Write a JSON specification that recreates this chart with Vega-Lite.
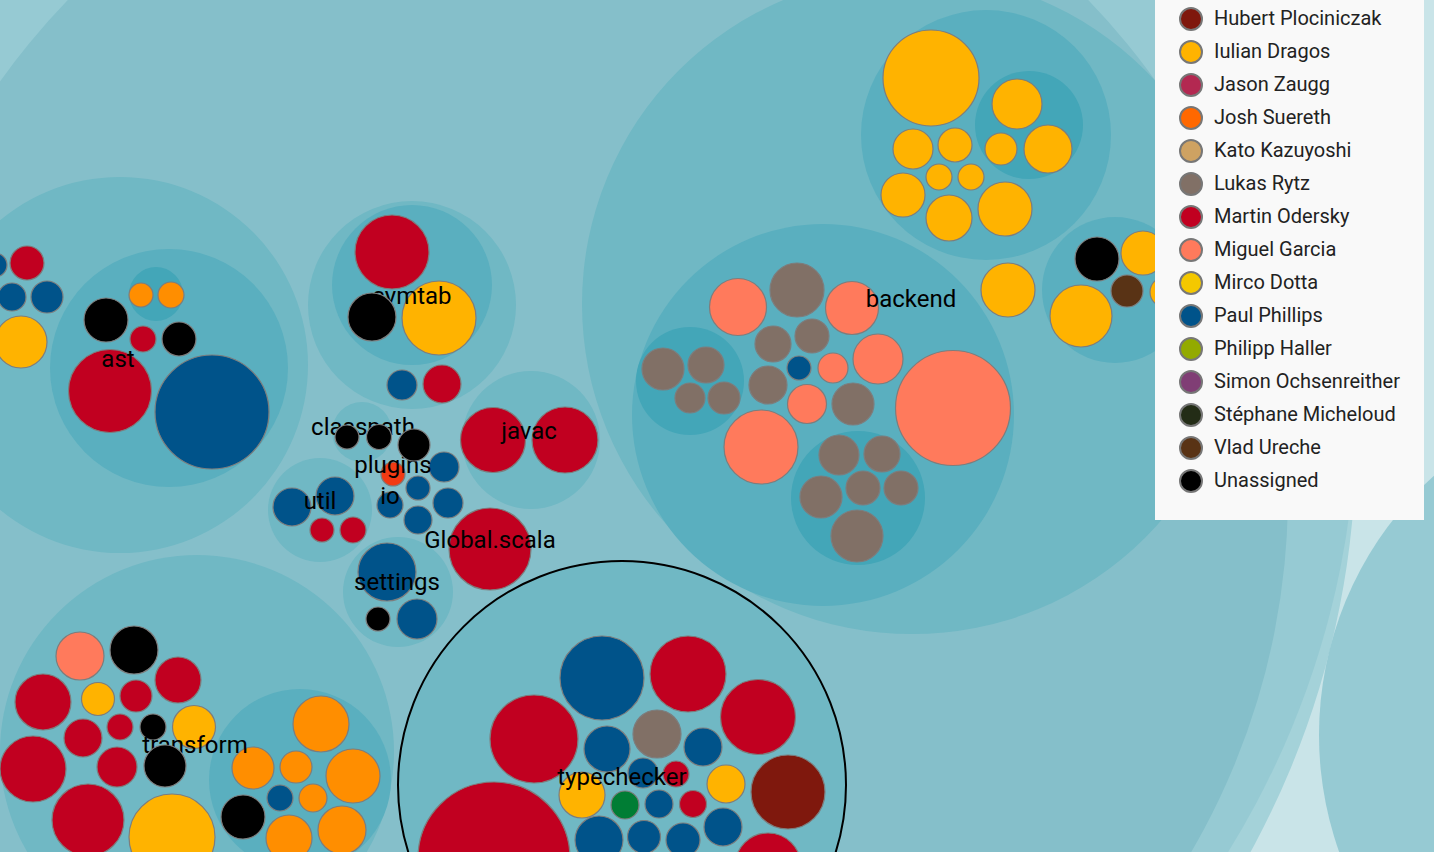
{
  "$schema": "https://vega.github.io/schema/vega-lite/v6.json",
  "width": 1434,
  "height": 852,
  "autosize": "none",
  "padding": 0,
  "background": "#c9e4e8",
  "config": {"view": {"stroke": null}},
  "datasets": {
    "nodes": [
      {"name": "outer2", "level": "g", "x": 500, "y": 440, "d": 1712},
      {"name": "right", "level": "p", "x": 1669, "y": 735, "d": 700},
      {"name": "outer1", "level": "p", "x": 500, "y": 400, "d": 1714},
      {"name": "nsc", "level": "a", "x": 578, "y": 494, "d": 1420},
      {"name": "backendgroup", "level": "l3", "x": 912, "y": 304, "d": 660},
      {"name": "astgroup", "level": "l3", "x": 120, "y": 365, "d": 376},
      {"name": "symtab", "level": "l3", "x": 412, "y": 305, "d": 208},
      {"name": "javac", "level": "l3", "x": 531, "y": 440, "d": 138},
      {"name": "classpath", "level": "l3", "x": 362, "y": 432, "d": 60},
      {"name": "util", "level": "l3", "x": 320, "y": 510, "d": 104},
      {"name": "settings", "level": "l3", "x": 398, "y": 592, "d": 110},
      {"name": "typechecker", "level": "l3", "x": 622, "y": 785, "d": 448},
      {"name": "transform", "level": "l3", "x": 197, "y": 752, "d": 394},
      {"name": "backend", "level": "l4", "x": 823, "y": 415, "d": 382},
      {"name": "icode", "level": "l4", "x": 986, "y": 135, "d": 250},
      {"name": "interactive", "level": "l4", "x": 1115, "y": 290, "d": 146},
      {"name": "ast", "level": "l4", "x": 169, "y": 368, "d": 238},
      {"name": "symtabinner", "level": "l4", "x": 412, "y": 285, "d": 160},
      {"name": "transformsub", "level": "l4", "x": 300, "y": 780, "d": 182},
      {"name": "backend1", "level": "l5", "x": 690, "y": 381, "d": 108},
      {"name": "backend2", "level": "l5", "x": 858, "y": 498, "d": 134},
      {"name": "icodesub", "level": "l5", "x": 1029, "y": 125, "d": 108},
      {"name": "astsub", "level": "l5", "x": 156, "y": 294, "d": 54}
    ],
    "leaves": [
      {"author": "Unassigned", "x": 106, "y": 320, "d": 44, "layer": "back"},
      {"author": "Martin Odersky", "x": 143, "y": 339, "d": 26, "layer": "back"},
      {"author": "Unassigned", "x": 179, "y": 339, "d": 34, "layer": "back"},
      {"author": "Martin Odersky", "x": 110, "y": 391, "d": 83, "layer": "back"},
      {"author": "Paul Phillips", "x": 212, "y": 412, "d": 114, "layer": "back"},
      {"author": "Offscreen 1", "x": 141, "y": 295, "d": 24, "layer": "back"},
      {"author": "Offscreen 1", "x": 171, "y": 295, "d": 26, "layer": "back"},
      {"author": "Paul Phillips", "x": -5, "y": 265, "d": 24, "layer": "back"},
      {"author": "Martin Odersky", "x": 27, "y": 263, "d": 34, "layer": "back"},
      {"author": "Paul Phillips", "x": 12, "y": 297, "d": 28, "layer": "back"},
      {"author": "Paul Phillips", "x": 47, "y": 297, "d": 32, "layer": "back"},
      {"author": "Iulian Dragos", "x": 21, "y": 342, "d": 52, "layer": "back"},

      {"author": "Martin Odersky", "x": 392, "y": 252, "d": 74, "layer": "back"},
      {"author": "Unassigned", "x": 372, "y": 317, "d": 48, "layer": "front"},
      {"author": "Iulian Dragos", "x": 439, "y": 318, "d": 74, "layer": "back"},
      {"author": "Paul Phillips", "x": 402, "y": 385, "d": 30, "layer": "back"},
      {"author": "Martin Odersky", "x": 442, "y": 384, "d": 38, "layer": "back"},

      {"author": "Martin Odersky", "x": 493, "y": 440, "d": 65, "layer": "back"},
      {"author": "Martin Odersky", "x": 565, "y": 440, "d": 66, "layer": "back"},

      {"author": "Unassigned", "x": 347, "y": 437, "d": 24, "layer": "front"},
      {"author": "Unassigned", "x": 379, "y": 437, "d": 25, "layer": "front"},
      {"author": "Unassigned", "x": 414, "y": 445, "d": 32, "layer": "front"},

      {"author": "Offscreen 3", "x": 393, "y": 474, "d": 24, "layer": "back"},

      {"author": "Paul Phillips", "x": 444, "y": 467, "d": 30, "layer": "back"},
      {"author": "Paul Phillips", "x": 418, "y": 488, "d": 24, "layer": "back"},
      {"author": "Paul Phillips", "x": 390, "y": 505, "d": 26, "layer": "back"},
      {"author": "Paul Phillips", "x": 448, "y": 503, "d": 30, "layer": "back"},
      {"author": "Paul Phillips", "x": 418, "y": 520, "d": 28, "layer": "back"},

      {"author": "Paul Phillips", "x": 292, "y": 507, "d": 38, "layer": "back"},
      {"author": "Paul Phillips", "x": 335, "y": 496, "d": 38, "layer": "back"},
      {"author": "Martin Odersky", "x": 322, "y": 530, "d": 24, "layer": "back"},
      {"author": "Martin Odersky", "x": 353, "y": 530, "d": 26, "layer": "back"},

      {"author": "Martin Odersky", "x": 490, "y": 549, "d": 82, "layer": "back"},

      {"author": "Paul Phillips", "x": 387, "y": 572, "d": 58, "layer": "back"},
      {"author": "Unassigned", "x": 378, "y": 619, "d": 24, "layer": "back"},
      {"author": "Paul Phillips", "x": 417, "y": 619, "d": 40, "layer": "back"},

      {"author": "Paul Phillips", "x": 602, "y": 678, "d": 84, "layer": "back"},
      {"author": "Martin Odersky", "x": 688, "y": 674, "d": 76, "layer": "back"},
      {"author": "Martin Odersky", "x": 758, "y": 717, "d": 75, "layer": "back"},
      {"author": "Martin Odersky", "x": 534, "y": 739, "d": 88, "layer": "back"},
      {"author": "Lukas Rytz", "x": 657, "y": 734, "d": 48, "layer": "back"},
      {"author": "Paul Phillips", "x": 607, "y": 749, "d": 46, "layer": "back"},
      {"author": "Paul Phillips", "x": 703, "y": 747, "d": 38, "layer": "back"},
      {"author": "Paul Phillips", "x": 643, "y": 773, "d": 30, "layer": "back"},
      {"author": "Martin Odersky", "x": 676, "y": 774, "d": 26, "layer": "back"},
      {"author": "Iulian Dragos", "x": 726, "y": 784, "d": 38, "layer": "back"},
      {"author": "Hubert Plociniczak", "x": 788, "y": 792, "d": 74, "layer": "back"},
      {"author": "Iulian Dragos", "x": 582, "y": 795, "d": 46, "layer": "back"},
      {"author": "Offscreen 2", "x": 625, "y": 805, "d": 28, "layer": "back"},
      {"author": "Paul Phillips", "x": 659, "y": 804, "d": 28, "layer": "back"},
      {"author": "Martin Odersky", "x": 693, "y": 804, "d": 27, "layer": "back"},
      {"author": "Paul Phillips", "x": 723, "y": 827, "d": 38, "layer": "back"},
      {"author": "Martin Odersky", "x": 494, "y": 858, "d": 152, "layer": "back"},
      {"author": "Paul Phillips", "x": 599, "y": 840, "d": 48, "layer": "back"},
      {"author": "Paul Phillips", "x": 644, "y": 837, "d": 33, "layer": "back"},
      {"author": "Paul Phillips", "x": 683, "y": 840, "d": 34, "layer": "back"},
      {"author": "Martin Odersky", "x": 768, "y": 866, "d": 66, "layer": "back"},

      {"author": "Miguel Garcia", "x": 80, "y": 656, "d": 48, "layer": "back"},
      {"author": "Unassigned", "x": 134, "y": 650, "d": 48, "layer": "back"},
      {"author": "Martin Odersky", "x": 178, "y": 680, "d": 46, "layer": "back"},
      {"author": "Martin Odersky", "x": 43, "y": 702, "d": 56, "layer": "back"},
      {"author": "Iulian Dragos", "x": 98, "y": 699, "d": 33, "layer": "back"},
      {"author": "Martin Odersky", "x": 136, "y": 696, "d": 32, "layer": "back"},
      {"author": "Martin Odersky", "x": 120, "y": 727, "d": 26, "layer": "back"},
      {"author": "Unassigned", "x": 153, "y": 727, "d": 26, "layer": "back"},
      {"author": "Iulian Dragos", "x": 194, "y": 727, "d": 43, "layer": "back"},
      {"author": "Martin Odersky", "x": 83, "y": 738, "d": 38, "layer": "back"},
      {"author": "Martin Odersky", "x": 33, "y": 769, "d": 66, "layer": "back"},
      {"author": "Martin Odersky", "x": 117, "y": 767, "d": 40, "layer": "back"},
      {"author": "Unassigned", "x": 165, "y": 766, "d": 42, "layer": "front"},
      {"author": "Martin Odersky", "x": 88, "y": 820, "d": 72, "layer": "back"},
      {"author": "Iulian Dragos", "x": 172, "y": 837, "d": 86, "layer": "back"},
      {"author": "Offscreen 1", "x": 321, "y": 724, "d": 56, "layer": "back"},
      {"author": "Offscreen 1", "x": 253, "y": 768, "d": 42, "layer": "back"},
      {"author": "Offscreen 1", "x": 296, "y": 767, "d": 32, "layer": "back"},
      {"author": "Offscreen 1", "x": 353, "y": 776, "d": 54, "layer": "back"},
      {"author": "Paul Phillips", "x": 280, "y": 798, "d": 26, "layer": "back"},
      {"author": "Offscreen 1", "x": 313, "y": 798, "d": 28, "layer": "back"},
      {"author": "Unassigned", "x": 243, "y": 817, "d": 44, "layer": "back"},
      {"author": "Offscreen 1", "x": 289, "y": 838, "d": 46, "layer": "back"},
      {"author": "Offscreen 1", "x": 342, "y": 830, "d": 48, "layer": "back"},

      {"author": "Iulian Dragos", "x": 931, "y": 78, "d": 96, "layer": "back"},
      {"author": "Iulian Dragos", "x": 1017, "y": 104, "d": 50, "layer": "back"},
      {"author": "Iulian Dragos", "x": 1001, "y": 149, "d": 32, "layer": "back"},
      {"author": "Iulian Dragos", "x": 1048, "y": 149, "d": 48, "layer": "back"},
      {"author": "Iulian Dragos", "x": 913, "y": 149, "d": 40, "layer": "back"},
      {"author": "Iulian Dragos", "x": 955, "y": 145, "d": 34, "layer": "back"},
      {"author": "Iulian Dragos", "x": 939, "y": 177, "d": 26, "layer": "back"},
      {"author": "Iulian Dragos", "x": 971, "y": 177, "d": 26, "layer": "back"},
      {"author": "Iulian Dragos", "x": 903, "y": 195, "d": 44, "layer": "back"},
      {"author": "Iulian Dragos", "x": 949, "y": 218, "d": 46, "layer": "back"},
      {"author": "Iulian Dragos", "x": 1005, "y": 209, "d": 54, "layer": "back"},
      {"author": "Iulian Dragos", "x": 1008, "y": 290, "d": 54, "layer": "back"},

      {"author": "Unassigned", "x": 1097, "y": 259, "d": 44, "layer": "back"},
      {"author": "Vlad Ureche", "x": 1127, "y": 291, "d": 32, "layer": "back"},
      {"author": "Iulian Dragos", "x": 1081, "y": 316, "d": 62, "layer": "back"},
      {"author": "Iulian Dragos", "x": 1143, "y": 253, "d": 44, "layer": "back"},
      {"author": "Iulian Dragos", "x": 1165, "y": 292, "d": 30, "layer": "back"},

      {"author": "Miguel Garcia", "x": 738, "y": 307, "d": 57, "layer": "back"},
      {"author": "Lukas Rytz", "x": 797, "y": 290, "d": 54, "layer": "back"},
      {"author": "Miguel Garcia", "x": 852, "y": 308, "d": 53, "layer": "back"},
      {"author": "Lukas Rytz", "x": 773, "y": 344, "d": 36, "layer": "back"},
      {"author": "Lukas Rytz", "x": 812, "y": 336, "d": 34, "layer": "back"},
      {"author": "Miguel Garcia", "x": 878, "y": 359, "d": 50, "layer": "back"},
      {"author": "Paul Phillips", "x": 799, "y": 368, "d": 24, "layer": "back"},
      {"author": "Miguel Garcia", "x": 833, "y": 368, "d": 30, "layer": "back"},
      {"author": "Lukas Rytz", "x": 768, "y": 385, "d": 38, "layer": "back"},
      {"author": "Miguel Garcia", "x": 807, "y": 404, "d": 39, "layer": "back"},
      {"author": "Lukas Rytz", "x": 853, "y": 404, "d": 42, "layer": "back"},
      {"author": "Miguel Garcia", "x": 953, "y": 408, "d": 115, "layer": "back"},
      {"author": "Miguel Garcia", "x": 761, "y": 447, "d": 74, "layer": "back"},
      {"author": "Lukas Rytz", "x": 663, "y": 369, "d": 42, "layer": "back"},
      {"author": "Lukas Rytz", "x": 706, "y": 365, "d": 36, "layer": "back"},
      {"author": "Lukas Rytz", "x": 690, "y": 398, "d": 30, "layer": "back"},
      {"author": "Lukas Rytz", "x": 724, "y": 398, "d": 32, "layer": "back"},
      {"author": "Lukas Rytz", "x": 839, "y": 455, "d": 40, "layer": "back"},
      {"author": "Lukas Rytz", "x": 882, "y": 454, "d": 36, "layer": "back"},
      {"author": "Lukas Rytz", "x": 821, "y": 497, "d": 42, "layer": "back"},
      {"author": "Lukas Rytz", "x": 863, "y": 488, "d": 34, "layer": "back"},
      {"author": "Lukas Rytz", "x": 901, "y": 488, "d": 34, "layer": "back"},
      {"author": "Lukas Rytz", "x": 857, "y": 536, "d": 52, "layer": "back"}
    ],
    "labels": [
      {"label": "symtab", "x": 412, "y": 304},
      {"label": "classpath", "x": 363, "y": 435},
      {"label": "transform", "x": 195, "y": 753},
      {"label": "ast", "x": 118, "y": 367},
      {"label": "plugins", "x": 393, "y": 473},
      {"label": "io", "x": 390, "y": 504},
      {"label": "util", "x": 320, "y": 509},
      {"label": "javac", "x": 529, "y": 439},
      {"label": "Global.scala", "x": 490, "y": 548},
      {"label": "settings", "x": 397, "y": 590},
      {"label": "backend", "x": 911, "y": 307},
      {"label": "typechecker", "x": 622, "y": 785}
    ]
  },
  "encoding": {
    "x": {"field": "x", "type": "quantitative", "scale": {"domain": [0, 1434], "nice": false, "zero": false}, "axis": null},
    "y": {"field": "y", "type": "quantitative", "scale": {"domain": [0, 852], "nice": false, "zero": false, "reverse": true}, "axis": null}
  },
  "layer": [
    {
      "data": {"name": "nodes"},
      "mark": {"type": "circle", "opacity": 1, "strokeWidth": 0},
      "encoding": {
        "size": {"field": "d", "type": "quantitative", "scale": {"type": "pow", "exponent": 2, "domain": [0, 2000], "range": [0, 4000000], "nice": false}, "legend": null},
        "fill": {"field": "level", "type": "nominal", "scale": {"domain": ["g", "p", "a", "l3", "l4", "l5"], "range": ["#a4d2d9", "#96cad3", "#85bfca", "#70b8c4", "#5aafbf", "#43a6b8"]}, "legend": null}
      }
    },
    {
      "data": {"name": "nodes"},
      "transform": [{"filter": "datum.name === 'typechecker'"}],
      "mark": {"type": "point", "shape": "circle", "filled": false, "stroke": "#000000", "strokeWidth": 2, "opacity": 1},
      "encoding": {
        "size": {"field": "d", "type": "quantitative", "scale": {"type": "pow", "exponent": 2, "domain": [0, 2000], "range": [0, 4000000], "nice": false}, "legend": null}
      }
    },
    {
      "data": {"name": "leaves"},
      "transform": [{"filter": "datum.layer === 'back'"}],
      "mark": {"type": "circle", "opacity": 1, "stroke": "#7d7d7d", "strokeWidth": 1.2},
      "encoding": {
        "size": {"field": "d", "type": "quantitative", "scale": {"type": "pow", "exponent": 2, "domain": [0, 2000], "range": [0, 4000000], "nice": false}, "legend": null},
        "color": {
          "field": "author", "type": "nominal",
          "scale": {
            "domain": ["Offscreen 1", "Offscreen 2", "Offscreen 3", "Hubert Plociniczak", "Iulian Dragos", "Jason Zaugg", "Josh Suereth", "Kato Kazuyoshi", "Lukas Rytz", "Martin Odersky", "Miguel Garcia", "Mirco Dotta", "Paul Phillips", "Philipp Haller", "Simon Ochsenreither", "Stéphane Micheloud", "Vlad Ureche", "Unassigned"],
            "range": ["#FF8E00", "#007D34", "#F13A13", "#7F180D", "#FFB300", "#B32851", "#FF6800", "#CEA262", "#817066", "#C10020", "#FF7A5C", "#F4C800", "#00538A", "#93AA00", "#803E75", "#232C16", "#593315", "#000000"]
          },
          "legend": {
            "values": ["Hubert Plociniczak", "Iulian Dragos", "Jason Zaugg", "Josh Suereth", "Kato Kazuyoshi", "Lukas Rytz", "Martin Odersky", "Miguel Garcia", "Mirco Dotta", "Paul Phillips", "Philipp Haller", "Simon Ochsenreither", "Stéphane Micheloud", "Vlad Ureche", "Unassigned"],
            "title": null,
            "orient": "none",
            "legendX": 1155,
            "legendY": -17,
            "padding": 24,
            "fillColor": "#f9f9f9",
            "symbolType": "circle",
            "symbolSize": 484,
            "symbolStrokeColor": "#777777",
            "symbolStrokeWidth": 2,
            "symbolOpacity": 1,
            "labelFont": "Roboto",
            "labelFontSize": 20,
            "labelColor": "#222222",
            "labelOffset": 11,
            "labelLimit": 300,
            "rowPadding": 3
          }
        }
      }
    },
    {
      "data": {"name": "labels"},
      "mark": {"type": "text", "font": "Roboto", "fontSize": 24, "fill": "#000000", "align": "center", "baseline": "alphabetic"},
      "encoding": {"text": {"field": "label", "type": "nominal"}}
    },
    {
      "data": {"name": "leaves"},
      "transform": [{"filter": "datum.layer === 'front'"}],
      "mark": {"type": "circle", "opacity": 1, "stroke": "#7d7d7d", "strokeWidth": 1.2},
      "encoding": {
        "size": {"field": "d", "type": "quantitative", "scale": {"type": "pow", "exponent": 2, "domain": [0, 2000], "range": [0, 4000000], "nice": false}, "legend": null},
        "color": {
          "field": "author", "type": "nominal",
          "scale": {
            "domain": ["Offscreen 1", "Offscreen 2", "Offscreen 3", "Hubert Plociniczak", "Iulian Dragos", "Jason Zaugg", "Josh Suereth", "Kato Kazuyoshi", "Lukas Rytz", "Martin Odersky", "Miguel Garcia", "Mirco Dotta", "Paul Phillips", "Philipp Haller", "Simon Ochsenreither", "Stéphane Micheloud", "Vlad Ureche", "Unassigned"],
            "range": ["#FF8E00", "#007D34", "#F13A13", "#7F180D", "#FFB300", "#B32851", "#FF6800", "#CEA262", "#817066", "#C10020", "#FF7A5C", "#F4C800", "#00538A", "#93AA00", "#803E75", "#232C16", "#593315", "#000000"]
          },
          "legend": {
            "values": ["Hubert Plociniczak", "Iulian Dragos", "Jason Zaugg", "Josh Suereth", "Kato Kazuyoshi", "Lukas Rytz", "Martin Odersky", "Miguel Garcia", "Mirco Dotta", "Paul Phillips", "Philipp Haller", "Simon Ochsenreither", "Stéphane Micheloud", "Vlad Ureche", "Unassigned"],
            "title": null,
            "orient": "none",
            "legendX": 1155,
            "legendY": -17,
            "padding": 24,
            "fillColor": "#f9f9f9",
            "symbolType": "circle",
            "symbolSize": 484,
            "symbolStrokeColor": "#777777",
            "symbolStrokeWidth": 2,
            "symbolOpacity": 1,
            "labelFont": "Roboto",
            "labelFontSize": 20,
            "labelColor": "#222222",
            "labelOffset": 11,
            "labelLimit": 300,
            "rowPadding": 3
          }
        }
      }
    }
  ]
}
